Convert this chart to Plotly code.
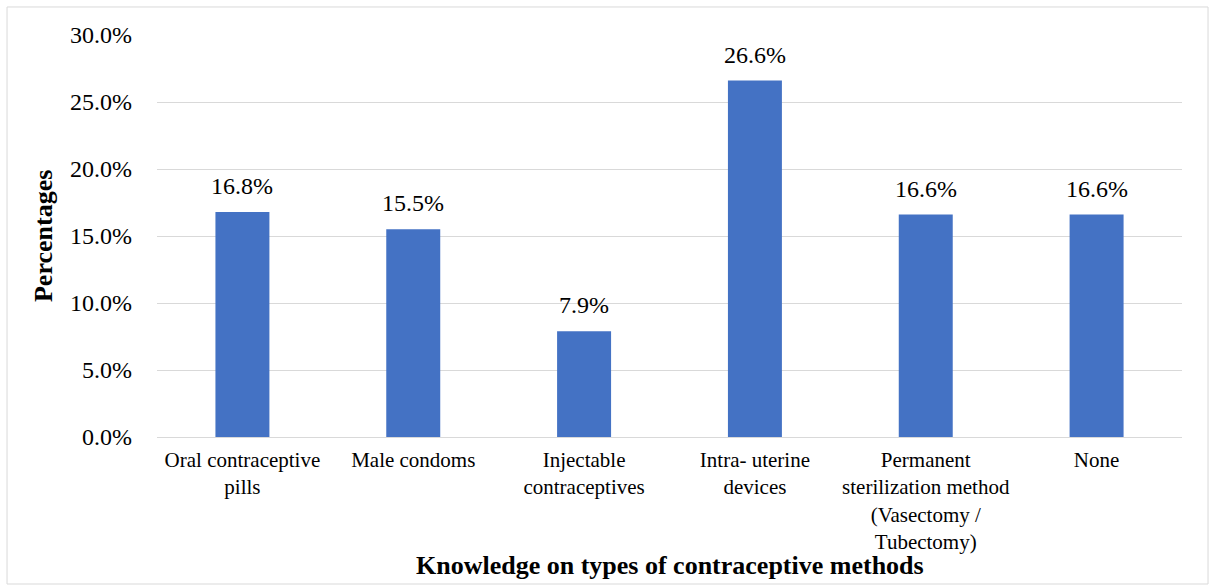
import plotly.graph_objects as go

categories = [
    "Oral contraceptive<br>pills",
    "Male condoms",
    "Injectable<br>contraceptives",
    "Intra- uterine<br>devices",
    "Permanent<br>sterilization method<br>(Vasectomy /<br>Tubectomy)",
    "None",
]
values = [16.8, 15.5, 7.9, 26.6, 16.6, 16.6]
y_ticks = [0, 5, 10, 15, 20, 25, 30]
x_title = "Knowledge on types of contraceptive methods"
y_title = "Percentages"

FONT = "Liberation Serif, Times New Roman, serif"
GRID = "#D9D9D9"

fig = go.Figure()
fig.add_trace(go.Bar(
    x=categories,
    y=values,
    marker=dict(color="#4472C4", line=dict(width=0)),
    hoverinfo="skip",
))

for c, v in zip(categories, values):
    fig.add_annotation(
        x=c, y=v, xref="x", yref="y",
        text=f"{v:.1f}%",
        showarrow=False,
        yanchor="bottom",
        yshift=11,
        font=dict(family=FONT, size=24, color="#000000"),
    )

fig.add_annotation(
    x=0.5, y=-0.32, xref="paper", yref="paper",
    text=f"<b>{x_title}</b>", showarrow=False,
    xanchor="center", yanchor="middle",
    font=dict(family=FONT, size=26, color="#000000"),
)
fig.add_annotation(
    x=-0.1112, y=0.5, xref="paper", yref="paper",
    text=f"<b>{y_title}</b>", showarrow=False, textangle=-90,
    xanchor="center", yanchor="middle",
    font=dict(family=FONT, size=26, color="#000000"),
)

# outer chart border
fig.add_shape(
    type="rect", xref="paper", yref="paper",
    x0=-0.1463, x1=1.0254, y0=-0.3657, y1=1.0697,
    line=dict(color=GRID, width=1), fillcolor="rgba(0,0,0,0)",
    layer="below",
)

fig.update_layout(
    width=1209, height=586,
    margin=dict(l=157, r=27, t=35, b=149),
    paper_bgcolor="white", plot_bgcolor="white",
    bargap=0.684,
    showlegend=False,
    font=dict(family=FONT, color="#000000"),
)
fig.update_xaxes(
    tickfont=dict(family=FONT, size=21, color="#000000"),
    showgrid=False, showline=False, zeroline=False,
    ticks="", ticklabelstandoff=8,
)
fig.update_yaxes(
    range=[0, 30], tickvals=y_ticks,
    ticktext=[f"{t:.1f}%" for t in y_ticks],
    tickfont=dict(family=FONT, size=24, color="#000000"),
    showgrid=True, gridcolor=GRID, gridwidth=1,
    zeroline=True, zerolinecolor=GRID, zerolinewidth=1,
    showline=False, ticks="", ticklabelstandoff=24,
)

fig.write_html("out.html")
